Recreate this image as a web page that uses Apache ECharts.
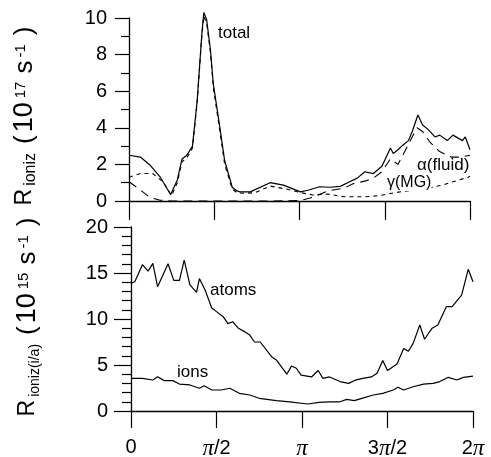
<!DOCTYPE html>
<html>
<head>
<meta charset="utf-8">
<script src="https://cdn.jsdelivr.net/npm/echarts@6/dist/echarts.min.js"></script>
<style>
html,body{margin:0;padding:0;background:#fff;}
#c{width:491px;height:457px;}
</style>
</head>
<body>
<div id="c"></div>
<script>
// phase in degrees (0..360 = 0..2π)
const xTickLabels = ['0', 'π/2', 'π', '3π/2', '2π'];

// top panel: ionization rate (10^17 s^-1)
const totalX = [0,12,22,33,40,44,51,56,61,67,72,77,79,82,86,89,96,101,109,114,117,128,149,163,181,190,201,212,223,233,241,249,258,267,276,279,284,289,295,299,305,310,316,323,328,336,342,352,355,360];
const totalY = [2.5,2.4,1.97,1.3,0.7,0.35,1.15,2.3,2.5,3.0,5.5,9.2,10.3,9.9,8.25,6.4,4.0,2.2,0.75,0.55,0.5,0.5,1.0,0.87,0.5,0.6,0.78,0.75,0.8,1.05,1.25,1.6,1.5,1.9,2.9,2.6,2.8,3.05,3.3,3.8,4.7,4.15,3.9,3.5,3.6,3.3,3.6,3.3,3.5,2.8];

const gammaX = [0,12,25,36,43,45,51,56,61,67,72,77,79,82,86,89,96,101,109,114,122,133,149,167,182,194,210,227,250,265,280,300,320,331,342,358,360];
const gammaY = [1.3,1.5,1.5,1.05,0.45,0.3,1.0,2.15,2.35,2.9,5.4,9.1,10.1,9.7,8.1,6.2,3.8,2.0,0.65,0.45,0.42,0.45,0.82,0.64,0.45,0.33,0.38,0.23,0.23,0.3,0.45,0.6,0.75,0.87,1.05,1.3,1.35];

const alphaX = [0,12,22,32,45,100,150,180,194,210,227,237,250,258,267,276,284,290,297,304,310,318,328,340,350,360];
const alphaY = [1.05,0.6,0.2,0.05,0,0,0,0.02,0.2,0.55,0.7,0.95,1.1,1.25,1.6,2.3,2.0,2.6,3.3,4.0,3.8,3.2,2.7,2.4,2.4,2.5];

// bottom panel: ionization rate of ions / atoms (10^15 s^-1)
const atomsX = [0,4,12,18,23,28,39,45,51,56,62,69,72,78,85,90,97,102,107,113,120,125,130,136,148,153,164,169,174,179,190,197,202,209,220,229,236,244,253,259,265,270,280,287,292,297,304,309,317,323,332,338,348,355,360];
const atomsY = [13.9,14.05,15.9,15.2,16.05,13.5,16.0,14.2,14.2,16.4,13.7,12.9,14.4,13.15,11.2,10.8,10.25,9.5,9.7,9.0,8.6,8.25,7.5,7.5,5.9,5.55,4.0,4.9,4.65,3.9,3.7,4.4,3.55,3.7,3.2,3.0,3.35,3.55,3.7,4.1,5.5,4.4,5.1,6.8,6.5,7.35,9.35,7.8,9.0,9.35,11.35,11.35,12.6,15.4,14.05];

const ionsX = [0,12,23,28,35,44,51,62,72,77,85,95,104,114,125,135,153,167,186,198,209,220,227,235,243,255,265,276,281,287,297,308,318,325,334,343,350,360];
const ionsY = [3.55,3.55,3.37,3.73,3.3,3.3,2.93,2.83,2.47,2.75,2.28,2.28,2.47,1.92,1.74,1.38,1.12,1.0,0.76,0.94,1.0,1.0,1.27,1.12,1.38,1.74,1.92,2.28,2.58,2.28,2.64,2.93,3.0,3.2,3.66,3.37,3.66,3.8];

const zip = (xs, ys) => xs.map((x, i) => [x, ys[i]]);

const chart = echarts.init(document.getElementById('c'), null, {renderer: 'canvas'});
const FONT = 'Liberation Sans';
const black = '#000';

function xLabel(v) {
  const m = {0: '0', 90: '{p|π}/2', 180: '{p|π}', 270: '3{p|π}/2', 360: '2{p|π}'};
  return m[v] !== undefined ? m[v] : '';
}

const lineBase = {type: 'line', symbol: 'none', clip: false, lineStyle: {color: black, width: 1.2}, z: 3};

function titleRich(subSize) {
  const base = {fontFamily: FONT, fill: black, lineHeight: 30};
  return {
    R: Object.assign({}, base, {fontSize: 23, verticalAlign: 'middle'}),
    sub: Object.assign({}, base, {fontSize: subSize, verticalAlign: 'bottom', padding: [0, 0, 1, 3]}),
    lp: Object.assign({}, base, {fontSize: 26, verticalAlign: 'middle', padding: [0, 3, 0, 9]}),
    n: Object.assign({}, base, {fontSize: 27, verticalAlign: 'middle'}),
    sup: Object.assign({}, base, {fontSize: 15, verticalAlign: 'top', padding: [3, 0, 0, 4]}),
    s: Object.assign({}, base, {fontSize: 26, verticalAlign: 'middle', padding: [0, 0, 0, 8]}),
    sup2: Object.assign({}, base, {fontSize: 15, verticalAlign: 'top', padding: [3, 0, 0, 3]}),
    rp: Object.assign({}, base, {fontSize: 26, verticalAlign: 'middle', padding: [0, 0, 0, 9]})
  };
}

chart.setOption({
  animation: false,
  backgroundColor: '#fff',
  grid: [
    {left: 129, top: 18, width: 341, height: 183, outerBoundsMode: 'none', containLabel: false},
    {left: 131, top: 227, width: 342, height: 184, outerBoundsMode: 'none', containLabel: false}
  ],
  xAxis: [
    {gridIndex: 0, type: 'value', min: 0, max: 360, interval: 90,
     axisLine: {lineStyle: {color: black, width: 1.3}},
     axisTick: {inside: false, length: 19, lineStyle: {color: black, width: 1.2}},
     axisLabel: {show: false}, splitLine: {show: false}},
    {gridIndex: 1, type: 'value', min: 0, max: 360, interval: 90,
     axisLine: {lineStyle: {color: black, width: 1.3}},
     axisTick: {inside: false, length: 17, lineStyle: {color: black, width: 1.2}},
     axisLabel: {margin: 26, color: black, fontFamily: FONT, fontSize: 20, formatter: xLabel,
       rich: {p: {fontFamily: 'Liberation Serif', fontStyle: 'italic', fontSize: 23, color: black}}},
     splitLine: {show: false}}
  ],
  yAxis: [
    {gridIndex: 0, type: 'value', min: 0, max: 10, interval: 2,
     axisLine: {show: true, lineStyle: {color: black, width: 1.3}},
     axisTick: {show: true, inside: false, length: 14, lineStyle: {color: black, width: 1.2}},
     minorTick: {show: true, splitNumber: 2, length: 8, lineStyle: {color: black, width: 1.2}},
     axisLabel: {margin: 22, color: black, fontFamily: FONT, fontSize: 20},
     splitLine: {show: false}},
    {gridIndex: 1, type: 'value', min: 0, max: 20, interval: 5,
     axisLine: {show: true, lineStyle: {color: black, width: 1.3}},
     axisTick: {show: true, inside: false, length: 17, lineStyle: {color: black, width: 1.2}},
     minorTick: {show: true, splitNumber: 5, length: 9, lineStyle: {color: black, width: 1.2}},
     axisLabel: {margin: 23, color: black, fontFamily: FONT, fontSize: 20},
     splitLine: {show: false}}
  ],
  series: [
    Object.assign({}, lineBase, {name: 'total', xAxisIndex: 0, yAxisIndex: 0, data: zip(totalX, totalY)}),
    Object.assign({}, lineBase, {name: 'γ(MG)', xAxisIndex: 0, yAxisIndex: 0, data: zip(gammaX, gammaY),
      lineStyle: {color: black, width: 1.1, type: [4, 4]}}),
    Object.assign({}, lineBase, {name: 'α(fluid)', xAxisIndex: 0, yAxisIndex: 0, data: zip(alphaX, alphaY),
      lineStyle: {color: black, width: 1.1, type: [9, 6]}}),
    Object.assign({}, lineBase, {name: 'atoms', xAxisIndex: 1, yAxisIndex: 1, data: zip(atomsX, atomsY)}),
    Object.assign({}, lineBase, {name: 'ions', xAxisIndex: 1, yAxisIndex: 1, data: zip(ionsX, ionsY)})
  ],
  graphic: [
    {type: 'text', x: 25, y: 116, rotation: Math.PI / 2, z: 10,
     style: {text: '{R|R}{sub|ioniz}{lp|(}{n|10}{sup|17}{s|s}{sup2|-1}{rp|)}', align: 'center', verticalAlign: 'middle',
       rich: titleRich(16)}},
    {type: 'text', x: 28, y: 317, rotation: Math.PI / 2, z: 10,
     style: {text: '{R|R}{sub|ioniz(i/a)}{lp|(}{n|10}{sup|15}{s|s}{sup2|-1}{rp|)}', align: 'center', verticalAlign: 'middle',
       rich: titleRich(14)}},
    {type: 'text', x: 218, y: 33, style: {text: 'total', fontFamily: FONT, fontSize: 17, fill: black, verticalAlign: 'middle'}},
    {type: 'text', x: 417, y: 165, z: 10, style: {text: 'α(fluid)', fontFamily: FONT, fontSize: 17, fill: black, verticalAlign: 'middle'}},
    {type: 'text', x: 387, y: 183, z: 10, style: {text: 'γ(MG)', fontFamily: FONT, fontSize: 16, fill: black, verticalAlign: 'middle', backgroundColor: '#fff'}},
    {type: 'text', x: 210, y: 290, style: {text: 'atoms', fontFamily: FONT, fontSize: 17, fill: black, verticalAlign: 'middle'}},
    {type: 'text', x: 177, y: 372, style: {text: 'ions', fontFamily: FONT, fontSize: 17, fill: black, verticalAlign: 'middle'}}
  ]
});
</script>
</body>
</html>
